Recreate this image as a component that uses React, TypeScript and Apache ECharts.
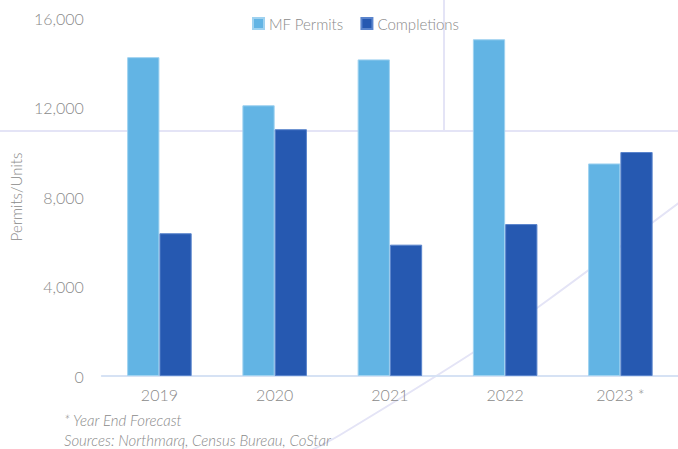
import React, { useEffect, useRef } from "react";
import * as echarts from "echarts";

const categories = ["2019", "2020", "2021", "2022", "2023 *"];
const mfPermits = [14250, 12100, 14150, 15050, 9500];
const completions = [6380, 11030, 5870, 6790, 10010];
const yTicks = { min: 0, max: 16000, interval: 4000 };

const FONT = "Lato, 'Noto Sans', sans-serif";
const GRAY = "#8a8a8a";

export default function App() {
  const ref = useRef<HTMLDivElement>(null);
  useEffect(() => {
    if (!ref.current) return;
    const chart = echarts.init(ref.current, null, { renderer: "svg" });
    chart.setOption({
      animation: false,
      backgroundColor: "#ffffff",
      textStyle: { fontFamily: FONT },
      grid: { left: 98, right: -5, top: 18, bottom: 73, containLabel: false },
      legend: {
        left: 247,
        top: 11,
        itemWidth: 11,
        itemHeight: 11,
        itemGap: 17,
        icon: "rect",
        textStyle: { color: GRAY, fontSize: 15, fontFamily: FONT, fontWeight: 300 },
        data: ["MF Permits", "Completions"],
      },
      graphic: [
        {
          type: "line",
          z: 0,
          silent: true,
          shape: { x1: 0, y1: 131, x2: 678, y2: 131 },
          style: { stroke: "#e4e4f6", lineWidth: 2 },
        },
        {
          type: "line",
          z: 0,
          silent: true,
          shape: { x1: 444, y1: 0, x2: 444, y2: 131 },
          style: { stroke: "#e4e4f6", lineWidth: 2 },
        },
        {
          type: "polyline",
          z: 0,
          silent: true,
          shape: {
            points: [
              [680, 202],
              [548, 300],
              [477, 350],
              [340, 435],
              [310, 451],
            ],
            smooth: 0.3,
          },
          style: { stroke: "#e4e4f6", lineWidth: 2, fill: null },
        },
        {
          type: "text",
          left: 64,
          top: 412,
          style: {
            text: "* Year End Forecast",
            fill: GRAY,
            fontSize: 15,
            fontStyle: "italic",
            fontFamily: FONT,
            fontWeight: 300,
          },
        },
        {
          type: "text",
          left: 64,
          top: 432,
          style: {
            text: "Sources: Northmarq, Census Bureau, CoStar",
            fill: GRAY,
            fontSize: 15,
            fontStyle: "italic",
            fontFamily: FONT,
            fontWeight: 300,
          },
        },
      ],
      xAxis: {
        type: "category",
        data: categories,
        axisLine: { show: true, lineStyle: { color: "#d6e2f4", width: 2 } },
        axisTick: { show: false },
        axisLabel: { color: GRAY, fontSize: 16, margin: 10, fontFamily: FONT, fontWeight: 300 },
      },
      yAxis: {
        type: "value",
        min: yTicks.min,
        max: yTicks.max,
        interval: yTicks.interval,
        name: "Permits/Units",
        nameLocation: "middle",
        nameGap: 78,
        nameTextStyle: { color: GRAY, fontSize: 15, fontFamily: FONT, fontWeight: 300 },
        axisLine: { show: false },
        axisTick: { show: false },
        splitLine: { show: false },
        axisLabel: {
          color: GRAY,
          fontSize: 16,
          margin: 18,
          fontFamily: FONT,
          fontWeight: 300,
          formatter: (v: number) => v.toLocaleString("en-US"),
        },
      },
      series: [
        {
          name: "MF Permits",
          type: "bar",
          data: mfPermits,
          barGap: "0%",
          barCategoryGap: "44%",
          z: 2,
          itemStyle: { color: "#62b4e4", borderColor: "#9fd2f0", borderWidth: 1 },
        },
        {
          name: "Completions",
          type: "bar",
          data: completions,
          z: 2,
          itemStyle: { color: "#2659b1", borderColor: "#5a84cc", borderWidth: 1 },
        },
      ],
    });
    return () => chart.dispose();
  }, []);
  return <div ref={ref} style={{ width: 678, height: 449, position: "absolute", left: 0, top: 0 }} />;
}
